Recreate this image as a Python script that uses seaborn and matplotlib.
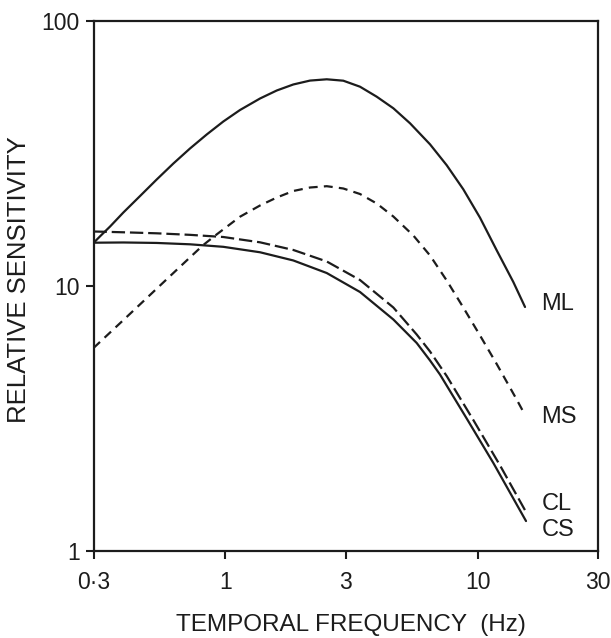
import matplotlib
matplotlib.use("Agg")
import matplotlib.pyplot as plt
from matplotlib.ticker import NullLocator, FixedLocator, FixedFormatter
import seaborn as sns
import pandas as pd

# ---- data (Hz, relative sensitivity) ----
ml_x = [0.300, 0.318, 0.349, 0.394, 0.459, 0.534, 0.622, 0.724, 0.843, 0.981,
        1.143, 1.372, 1.598, 1.859, 2.165, 2.522, 2.934, 3.417, 3.980, 4.633,
        5.395, 6.475, 7.539, 8.772, 10.22, 11.90, 13.85, 15.41]
ml_y = [14.51, 15.35, 16.74, 18.91, 21.83, 25.19, 28.96, 33.00, 37.26, 41.72,
        46.12, 50.97, 54.64, 57.58, 59.56, 60.23, 59.50, 56.47, 51.77, 46.81,
        41.08, 34.21, 28.53, 23.14, 18.07, 13.61, 10.33, 8.313]

ms_x = [0.300, 0.394, 0.534, 0.724, 0.817, 0.909, 1.143, 1.372, 1.598, 1.859,
        2.165, 2.522, 2.934, 3.417, 3.980, 4.633, 5.560, 6.475, 7.539, 8.772,
        10.22, 11.90, 14.28, 15.41]
ms_y = [5.819, 7.418, 9.747, 12.80, 14.25, 15.45, 18.23, 20.10, 21.54, 22.80,
        23.50, 23.77, 23.30, 22.21, 20.45, 18.26, 15.48, 13.01, 10.47, 8.277,
        6.488, 5.063, 3.718, 3.250]

cl_x = [0.300, 0.394, 0.534, 0.724, 0.981, 1.372, 1.859, 2.522, 3.417, 4.633,
        5.733, 6.475, 7.539, 9.613, 12.27, 15.55]
cl_y = [16.03, 15.92, 15.78, 15.57, 15.28, 14.59, 13.65, 12.35, 10.51, 8.277,
        6.544, 5.645, 4.561, 3.111, 2.095, 1.398]

cs_x = [0.300, 0.394, 0.534, 0.724, 0.981, 1.372, 1.859, 2.522, 3.417, 4.633,
        5.733, 6.475, 7.089, 9.048, 11.54, 15.55]
cs_y = [14.54, 14.57, 14.51, 14.34, 14.03, 13.38, 12.46, 11.17, 9.471, 7.457,
        6.079, 5.220, 4.622, 3.152, 2.141, 1.292]

series_names = ["ML", "MS", "CL", "CS"]
x_ticks = [0.3, 1, 3, 10, 30]
x_tick_labels = ["0\u00b73", "1", "3", "10", "30"]
y_ticks = [1, 10, 100]
y_tick_labels = ["1", "10", "100"]

# ---- long-form table ----
frames = []
for name, xs, ys in zip(series_names, [ml_x, ms_x, cl_x, cs_x], [ml_y, ms_y, cl_y, cs_y]):
    frames.append(pd.DataFrame({"freq": xs, "sens": ys, "curve": name}))
df = pd.concat(frames, ignore_index=True)

sns.set_style("ticks")
plt.rcParams["font.family"] = ["Liberation Sans", "DejaVu Sans"]
plt.rcParams["lines.solid_joinstyle"] = "round"
plt.rcParams["lines.dash_joinstyle"] = "round"

ink = "#1c1c1c"
fig = plt.figure(figsize=(6.11, 6.38), dpi=100)
fig.patch.set_facecolor("white")
ax = fig.add_axes([93.5 / 611, 1 - 550.5 / 638, 504.5 / 611, 529.5 / 638])

palette = {n: ink for n in series_names}
dashes = {"ML": "", "CS": "", "CL": (6.0, 2.2), "MS": (4.0, 2.8)}
sns.lineplot(data=df, x="freq", y="sens", hue="curve", style="curve",
             palette=palette, dashes=dashes, estimator=None, sort=False,
             linewidth=1.6, legend=False, ax=ax)

ax.set_xscale("log")
ax.set_yscale("log")
ax.set_xlim(0.3, 30)
ax.set_ylim(1, 100)
ax.xaxis.set_major_locator(FixedLocator(x_ticks))
ax.xaxis.set_major_formatter(FixedFormatter(x_tick_labels))
ax.yaxis.set_major_locator(FixedLocator(y_ticks))
ax.yaxis.set_major_formatter(FixedFormatter(y_tick_labels))
ax.xaxis.set_minor_locator(NullLocator())
ax.yaxis.set_minor_locator(NullLocator())

for s in ax.spines.values():
    s.set_visible(True)
    s.set_color(ink)
    s.set_linewidth(1.6)

ax.tick_params(axis="both", which="major", direction="out", length=6,
               width=1.5, color=ink, labelcolor=ink, labelsize=16.5)
ax.tick_params(axis="x", pad=9)
ax.tick_params(axis="y", pad=4)

ax.set_xlabel("TEMPORAL FREQUENCY  (Hz)", fontsize=17.5, color=ink, va="center")
ax.set_ylabel("RELATIVE SENSITIVITY", fontsize=18.5, color=ink, va="center")
ax.xaxis.set_label_coords(0.510, -0.140)
ax.yaxis.set_label_coords(-0.148, 0.511)

# curve labels placed just right of each curve's end
label_offsets = {"ML": (11.5, 2.0), "MS": (11.5, -1.5), "CL": (11.5, 6.0), "CS": (11.5, -6.5)}
ends = {"ML": (ml_x[-1], ml_y[-1]), "MS": (ms_x[-1], ms_y[-1]),
        "CL": (cl_x[-1], cl_y[-1]), "CS": (cs_x[-1], cs_y[-1])}
for name in series_names:
    ax.annotate(name, xy=ends[name], xytext=label_offsets[name],
                textcoords="offset points", ha="left", va="center",
                fontsize=17, color=ink)

ax.set_facecolor("white")
fig.savefig("out.png", dpi=100, facecolor="white")
